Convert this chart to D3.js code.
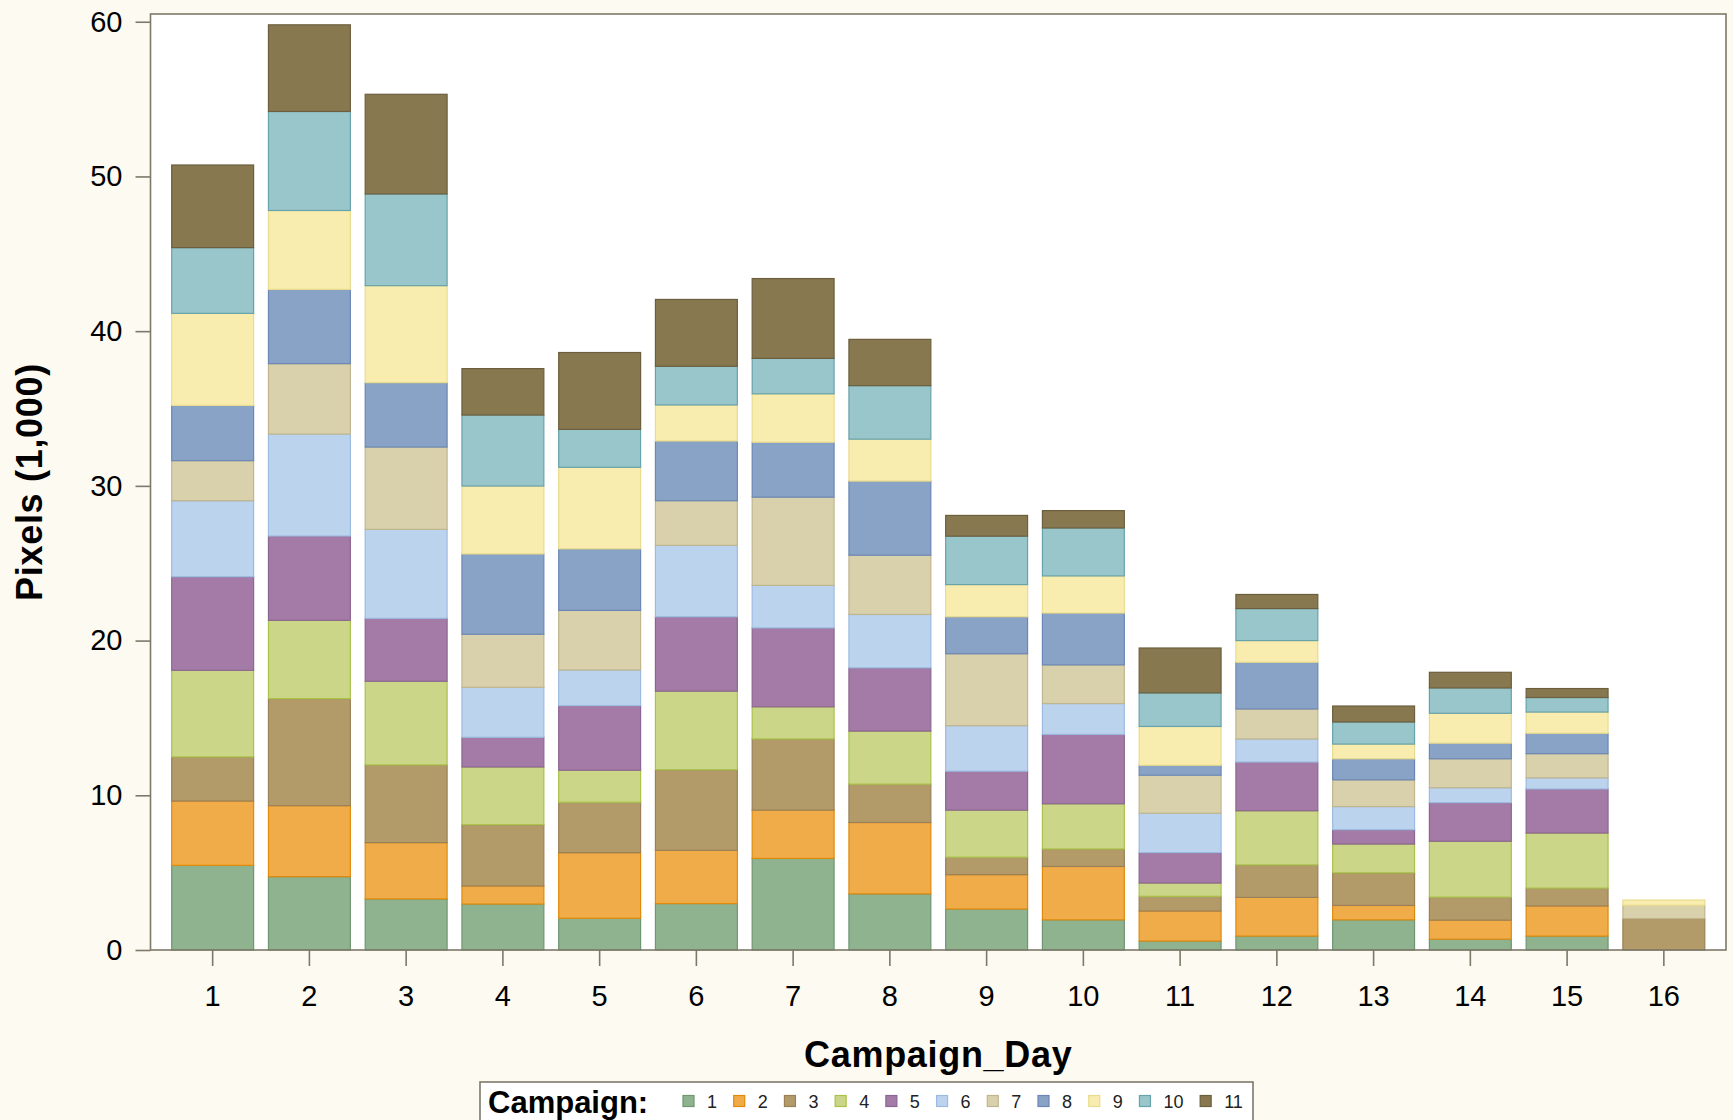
<!DOCTYPE html>
<html>
<head>
<meta charset="utf-8">
<script src="https://cdn.jsdelivr.net/npm/d3@7"></script>
<style>
  html, body { margin: 0; padding: 0; background: #fdfaf2; }
  svg { display: block; }
  text { font-family: "Liberation Sans", Arial, Helvetica, sans-serif; }
</style>
</head>
<body>
<svg id="chart" width="1733" height="1120"></svg>
<script>
// ---- Data (Pixels, in thousands) ----
const days = ["1","2","3","4","5","6","7","8","9","10","11","12","13","14","15","16"];
const campaigns = ["1","2","3","4","5","6","7","8","9","10","11"];
const c1  = [5.47, 4.74, 3.30, 2.97, 2.05, 3.00, 5.92, 3.63, 2.65, 1.95, 0.58, 0.90, 1.95, 0.70, 0.90, 0];
const c2  = [4.16, 4.59, 3.64, 1.17, 4.24, 3.44, 3.12, 4.61, 2.22, 3.45, 1.94, 2.50, 0.93, 1.23, 1.95, 0];
const c3  = [2.85, 6.92, 5.02, 3.96, 3.26, 5.21, 4.60, 2.48, 1.13, 1.13, 0.95, 2.10, 2.11, 1.49, 1.15, 2.03];
const c4  = [5.60, 5.06, 5.41, 3.73, 2.07, 5.08, 2.08, 3.43, 3.04, 2.92, 0.86, 3.50, 1.86, 3.61, 3.56, 0];
const c5  = [6.05, 5.45, 4.07, 1.92, 4.18, 4.81, 5.10, 4.09, 2.52, 4.49, 1.97, 3.15, 0.93, 2.50, 2.85, 0];
const c6  = [4.91, 6.59, 5.75, 3.23, 2.30, 4.62, 2.75, 3.45, 2.94, 1.99, 2.54, 1.49, 1.49, 0.96, 0.72, 0];
const c7  = [2.59, 4.55, 5.32, 3.43, 3.85, 2.88, 5.70, 3.83, 4.65, 2.50, 2.46, 1.94, 1.73, 1.87, 1.56, 0.86];
const c8  = [3.57, 4.80, 4.16, 5.19, 3.98, 3.86, 3.55, 4.79, 2.39, 3.35, 0.64, 3.02, 1.36, 1.01, 1.32, 0];
const c9  = [5.95, 5.10, 6.27, 4.39, 5.27, 2.33, 3.13, 2.71, 2.08, 2.40, 2.51, 1.40, 0.95, 1.93, 1.37, 0.34];
const c10 = [4.25, 6.40, 5.93, 4.59, 2.45, 2.50, 2.29, 3.46, 3.13, 3.10, 2.17, 2.07, 1.43, 1.64, 0.94, 0];
const c11 = [5.34, 5.60, 6.44, 3.00, 4.97, 4.32, 5.16, 2.99, 1.34, 1.12, 2.90, 0.91, 1.03, 1.01, 0.58, 0];
const yTicks = [0, 10, 20, 30, 40, 50, 60];

const fills   = ["#8eb38e","#f0ac48","#b39a69","#cbd688","#a47ba7","#bcd3ee","#d9d1ac","#89a3c7","#f8ecae","#98c6cb","#887850"];
const strokes = ["#6f9672","#e08a0c","#9a8157","#a9c24a","#8c6692","#9cbbe0","#c0b68e","#6c87b5","#e9dc8e","#68a2ab","#6c5f3d"];

(function () {
  // ---- Build table ----
  const series = [c1,c2,c3,c4,c5,c6,c7,c8,c9,c10,c11];
  const table = days.map((d, i) => {
    const row = { day: d };
    campaigns.forEach((c, j) => { row[c] = series[j][i]; });
    return row;
  });
  const stacked = d3.stack().keys(campaigns)(table);

  // ---- Layout ----
  const svg = d3.select("#chart");
  const W = 1733, H = 1120;
  const pl = 150.5, pr = 1726, pt = 14, pb = 950;
  const frameColor = "#7d7868";

  svg.append("rect").attr("x",0).attr("y",0).attr("width",W).attr("height",H).attr("fill","#fdfaf2");
  svg.append("rect").attr("x",pl).attr("y",pt).attr("width",pr-pl).attr("height",pb-pt).attr("fill","#ffffff");

  const x = d3.scaleBand().domain(days).range([pl, pr]).paddingInner(0.143).paddingOuter(0.214);
  const y = d3.scaleLinear().domain([0, 60.5]).range([pb, pt]);

  // ---- Bars ----
  const g = svg.append("g");
  stacked.forEach((layer, j) => {
    g.append("g")
      .selectAll("rect")
      .data(layer.filter(d => d[1] - d[0] > 0))
      .join("rect")
      .attr("x", d => x(d.data.day) + 0.5)
      .attr("width", x.bandwidth() - 1)
      .attr("y", d => y(d[1]))
      .attr("height", d => y(d[0]) - y(d[1]))
      .attr("fill", fills[j])
      .attr("stroke", strokes[j])
      .attr("stroke-width", 1.2);
  });

  // ---- Frame ----
  svg.append("rect").attr("x",pl).attr("y",pt).attr("width",pr-pl).attr("height",pb-pt)
    .attr("fill","none").attr("stroke",frameColor).attr("stroke-width",1.6);

  // ---- Axes ----
  const yAxis = svg.append("g").attr("transform", `translate(${pl},0)`)
    .call(d3.axisLeft(y).tickValues(yTicks).tickSize(15).tickPadding(13));
  yAxis.select(".domain").remove();
  yAxis.selectAll(".tick line").attr("stroke", frameColor).attr("stroke-width", 1.6);
  yAxis.selectAll(".tick text").attr("font-size", 29).attr("fill", "#000")
    .attr("font-family", "'Liberation Sans', Arial, sans-serif");

  const xAxis = svg.append("g").attr("transform", `translate(0,${pb})`)
    .call(d3.axisBottom(x).tickSize(16).tickPadding(19));
  xAxis.select(".domain").remove();
  xAxis.selectAll(".tick line").attr("stroke", frameColor).attr("stroke-width", 1.6);
  xAxis.selectAll(".tick text").attr("font-size", 29).attr("fill", "#000")
    .attr("font-family", "'Liberation Sans', Arial, sans-serif");

  // ---- Axis labels ----
  svg.append("text")
    .attr("x", (pl + pr) / 2).attr("y", 1067)
    .attr("text-anchor", "middle").attr("font-size", 36).attr("font-weight", "bold")
    .attr("letter-spacing", "0.7px").attr("fill", "#000")
    .text("Campaign_Day");

  svg.append("text")
    .attr("transform", `translate(42,${(pt + pb) / 2}) rotate(-90)`)
    .attr("text-anchor", "middle").attr("font-size", 36).attr("font-weight", "bold")
    .attr("letter-spacing", "0.7px").attr("fill", "#000")
    .text("Pixels (1,000)");

  // ---- Legend ----
  const leg = svg.append("g");
  leg.append("rect").attr("x", 480).attr("y", 1082).attr("width", 773).attr("height", 60)
    .attr("fill", "#ffffff").attr("stroke", frameColor).attr("stroke-width", 1.6);
  leg.append("text").attr("x", 488).attr("y", 1113).attr("font-size", 31).attr("font-weight", "bold")
    .attr("fill", "#000").text("Campaign:");

  let cursor = 683;
  campaigns.forEach((c, j) => {
    leg.append("rect").attr("x", cursor).attr("y", 1095.5).attr("width", 11).attr("height", 11)
      .attr("fill", fills[j]).attr("stroke", strokes[j]).attr("stroke-width", 1.2);
    const t = leg.append("text").attr("x", cursor + 24).attr("y", 1107.5)
      .attr("font-size", 18).attr("fill", "#222").text(c);
    const w = t.node().getComputedTextLength();
    cursor += 24 + w + 16.7;
  });
})();
</script>
</body>
</html>
